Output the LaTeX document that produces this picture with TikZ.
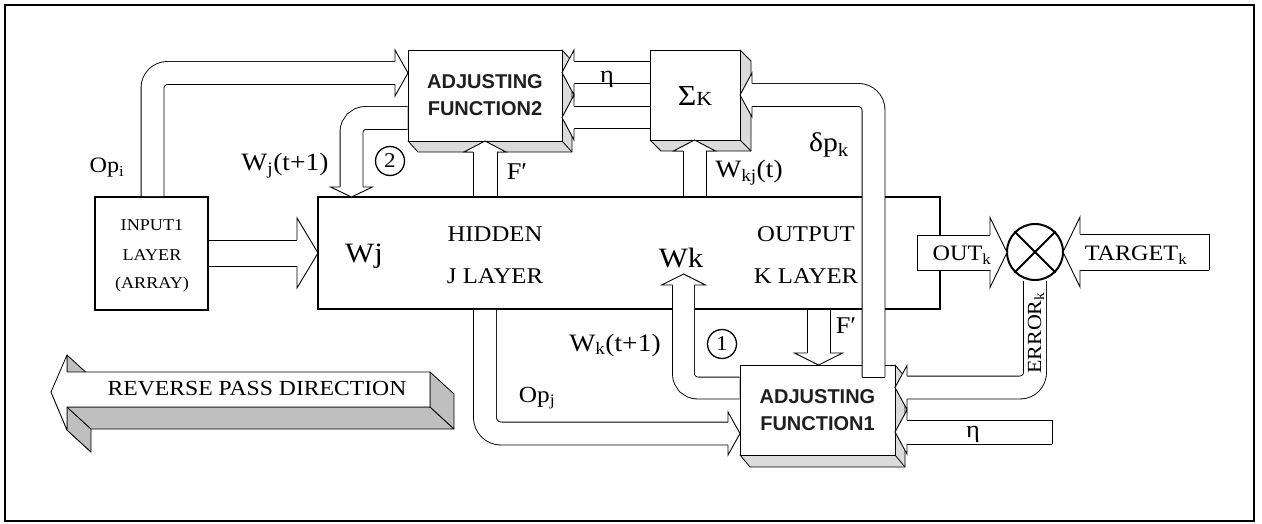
\documentclass[tikz,border=0pt]{standalone}
\usepackage{fontspec}
\setmainfont[FakeStretch=1.1]{Liberation Serif}
\newfontfamily\afont{Liberation Sans}
\newcommand\fsz[1]{\fontsize{#1}{#1}\selectfont}
% arrow head: tip x, tip y, angle, length, half width, shaft width
\newcommand\bhead[6]{%
  \begin{scope}[shift={(#1,#2)},rotate=#3]
    \fill[white] (-#4,-#5) -- (0,0) -- (-#4,#5) -- cycle;
    \draw[ol] (-#4,{-(#6/2+0.45)}) -- (-#4,-#5) -- (0,0) -- (-#4,#5) -- (-#4,{#6/2+0.45});
  \end{scope}}
% straight shaft: start x, start y, angle, length, width
\newcommand\sshaft[5]{%
  \begin{scope}[shift={(#1,#2)},rotate=#3]
    \fill[white] (0,{-#5/2}) rectangle (#4,{#5/2});
    \draw[ol] (0,{-(#5/2+0.45)}) -- (#4,{-(#5/2+0.45)}) (0,{#5/2+0.45}) -- (#4,{#5/2+0.45});
  \end{scope}}
\begin{document}
\begin{tikzpicture}[x=1pt,y=-1pt,
  ol/.style={line width=0.9pt, line join=miter},
  shaft/.style={double=white, double distance=#1, line width=0.9pt},
  face/.style={fill=gray!28, line width=0.8pt, line join=round},
  front/.style={draw, fill=white, line width=0.9pt, inner sep=0pt, outer sep=0pt, anchor=north west},
  lbl/.style={inner sep=0pt},
  numc/.style={draw, circle, line width=1.3pt, minimum size=29pt, inner sep=0pt, font=\fsz{21}},
  afl/.style={font=\afont\bfseries\fontsize{20}{27}\selectfont, text=black!88, align=center, inner sep=0pt}]
\useasboundingbox (0,0) rectangle (1262,524);
% frame
\draw[line width=1.6pt] (5,5) rectangle (1254,521);

% reverse pass direction 3D arrow
\begin{scope}[fill=gray!50, line width=0.8pt, line join=round]
\filldraw (67,355) -- (91,377) -- (91,394) -- (67,372) -- cycle;
\filldraw (51,392) -- (75,414) -- (91,452) -- (67,430) -- cycle;
\filldraw (67,407) -- (67,430) -- (91,452) -- (91,429) -- cycle;
\filldraw (67,407) -- (430,407) -- (454,429) -- (91,429) -- cycle;
\filldraw (430,372) -- (454,394) -- (454,429) -- (430,407) -- cycle;
\end{scope}
\filldraw[fill=white, line width=0.8pt, line join=round] (51,392) -- (67,355) -- (67,372) -- (430,372) -- (430,407) -- (67,407) -- (67,430) -- cycle;
\node[lbl, font=\fsz{21.5}] (rev) at (257,389) {REVERSE PASS DIRECTION};

% layer boxes
\node[draw, line width=1.5pt, minimum width=113pt, minimum height=113pt, inner sep=0pt, outer sep=0pt, anchor=north west] (inp) at (95,197) {};
\node[draw, line width=1.6pt, minimum width=622pt, minimum height=112pt, inner sep=0pt, outer sep=0pt, anchor=north west] (main) at (318,197) {};

% 3D boxes
\filldraw[face] (562,50) -- (572,61) -- (572,152) -- (418,152) -- (408,141) -- (562,141) -- cycle;
\draw[line width=0.8pt] (562,141) -- (572,152);
\node[front, minimum width=154pt, minimum height=91pt] (af2) at (408,50) {};

\filldraw[face] (740,50) -- (751,61) -- (751,151) -- (661,151) -- (650,140) -- (740,140) -- cycle;
\draw[line width=0.8pt] (740,140) -- (751,151);
\node[front, minimum width=90pt, minimum height=90pt] (sig) at (650,50) {};

\filldraw[face] (895,365) -- (905,377) -- (905,467) -- (750,467) -- (740,455) -- (895,455) -- cycle;
\draw[line width=0.8pt] (895,455) -- (905,467);
\node[front, minimum width=155pt, minimum height=90pt] (af1) at (740,365) {};

% summing junction
\node[draw, circle, line width=2pt, minimum size=56pt, inner sep=0pt] (sum) at (1035,252) {};
\draw[line width=2pt] (sum.north west) -- (sum.south east) (sum.north east) -- (sum.south west);

% ---- block arrows ----
% Op_i
\draw[shaft=22pt, rounded corners=15pt] (152.5,196.2) -- (152.5,73) -- (395,73);
\bhead{408}{73}{0}{13}{23}{22}
% input -> hidden
\sshaft{208.8}{253}{0}{88.2}{25}
\bhead{318}{253}{0}{21}{35}{25}
% W_j(t+1)
\draw[shaft=22pt, rounded corners=14pt] (407.5,118) -- (351.5,118) -- (351.5,187);
\bhead{351.5}{197}{-90}{10}{21}{22}
% F' up to AF2
\sshaft{485}{196.2}{90}{44.2}{23}
\bhead{485}{141}{90}{11}{21}{23}
% W_kj(t)
\sshaft{694.5}{196.2}{90}{45.2}{22}
\bhead{694.5}{140}{90}{11}{21}{22}
% eta and sigma from Sigma_K to AF2
\sshaft{649.5}{72.5}{180}{75.5}{22}
\bhead{562}{72.5}{180}{12}{22.5}{22}
\sshaft{649.5}{117.5}{180}{75.5}{22}
\bhead{562}{117.5}{180}{12}{22.5}{22}
% delta p_k
\draw[shaft=22pt, rounded corners=15pt] (873.5,377) -- (873.5,95) -- (752,95);
\draw[ol] (862.05,377) -- (884.95,377);
\bhead{740}{95}{180}{12}{22}{22}
% W_k(t+1)
\draw[shaft=21pt, rounded corners=14pt] (739.5,388) -- (683.5,388) -- (683.5,285);
\bhead{683.5}{274}{90}{11}{22}{21}
% Op_j
\draw[shaft=22pt, rounded corners=16pt] (485,309.8) -- (485,433.5) -- (728,433.5);
\bhead{740}{433.5}{0}{12}{21.5}{22}
% F' down to AF1
\sshaft{818.5}{309.8}{-90}{43.2}{22}
\bhead{818.5}{365}{-90}{12}{24}{22}
% OUT_k
\sshaft{917}{252.5}{0}{73}{34}
\draw[ol] (917,235.05) -- (917,269.95);
\bhead{1007}{252.5}{0}{17}{35}{34}
% TARGET_k
\sshaft{1209}{252}{180}{129}{35}
\draw[ol] (1209,234.05) -- (1209,269.95);
\bhead{1063}{252}{180}{17}{35}{35}
% ERROR_k
\draw[shaft=22pt, rounded corners=15pt] (1035,281) -- (1035,387.5) -- (907,387.5);
\bhead{895}{387.5}{180}{12}{22}{22}
% eta to AF1
\sshaft{1052}{432}{180}{145}{23}
\draw[ol] (1052,420.05) -- (1052,443.95);
\bhead{895}{432}{180}{12}{22}{23}

% ---- box texts ----
\node[afl] (af2t) at (af2.center) {ADJUSTING\\FUNCTION2};
\node[afl] (af1t) at (af1.center) {ADJUSTING\\FUNCTION1};
\node[lbl, font=\fsz{29}] (sigt) at (695,96) {Σ\fsz{20}K};
\node[lbl, font=\fsz{16.5}] (in1) at (152,225) {INPUT1};
\node[lbl, font=\fsz{16.5}] (in2) at (152,255) {LAYER};
\node[lbl, font=\fsz{16.5}] (in3) at (152,285) {(ARRAY)};
\node[lbl, font=\fsz{28}] (wj) at (364,256) {Wj};
\node[lbl, font=\fsz{22.5}] (hid1) at (495,234) {HIDDEN};
\node[lbl, font=\fsz{22.5}] (hid2) at (495,276) {J LAYER};
\node[lbl, font=\fsz{28}] (wk) at (681,258) {Wk};
\node[lbl, font=\fsz{22.5}] (out1) at (806,234) {OUTPUT};
\node[lbl, font=\fsz{22.5}] (out2) at (806,276) {K LAYER};

% ---- labels ----
\node[lbl, font=\fsz{22}] (opi) at (107,168) {Op\textsubscript{i}};
\node[lbl, font=\fsz{25}] (wjt) at (285,166) {W\textsubscript{j}(t+1)};
\node[numc] (c2) at (390,161) {2};
\node[lbl, font=\fsz{24}] (fp1) at (517,172) {F′};
\node[lbl, font=\fsz{24}] (eta1) at (607,79) {η};
\node[lbl, font=\fsz{25}] (wkj) at (749,173) {W\textsubscript{kj}(t)};
\node[lbl, font=\fsz{27}] (dpk) at (829,145) {δp\textsubscript{k}};
\node[lbl, font=\fsz{22}] (outk) at (962,255) {OUT\textsubscript{k}};
\node[lbl, font=\fsz{22}] (tgt) at (1136,255) {TARGET\textsubscript{k}};
\node[lbl, font=\fsz{20}, rotate=90] (err) at (1036,333) {ERROR\textsubscript{k}};
\node[lbl, font=\fsz{25}] (wkt) at (615,345) {W\textsubscript{k}(t+1)};
\node[numc] (c1) at (722,344) {1};
\node[lbl, font=\fsz{24}] (fp2) at (846,326) {F′};
\node[lbl, font=\fsz{23}] (opj) at (537,398) {Op\textsubscript{j}};
\node[lbl, font=\fsz{24}] (eta2) at (973,434) {η};
\end{tikzpicture}
\end{document}
